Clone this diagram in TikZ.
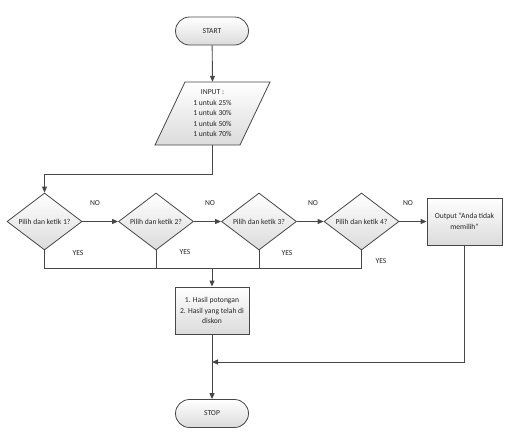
\documentclass[tikz,border=0pt]{standalone}
\usepackage{fontspec}
\setmainfont{Carlito}
\usetikzlibrary{shapes.geometric,arrows.meta,calc}
\begin{document}
\begin{tikzpicture}[x=1pt,y=-1pt,
 line/.style={draw=black!72, line width=0.9pt},
 arr/.style={line, -{Triangle[length=6pt,width=5pt]}},
 shfill/.style={top color=white, bottom color=black!14, draw=black!72, line width=0.8pt},
 term/.style={shfill, rectangle, rounded corners=14pt, minimum width=73pt, minimum height=28pt, inner sep=0pt},
 dec/.style={shfill, diamond, aspect=1.32, minimum width=75pt, minimum height=57pt, inner sep=0pt},
 proc/.style={shfill, rectangle, minimum width=74pt, minimum height=47pt, inner sep=1pt, align=center},
 every node/.append style={font=\fontsize{7.6}{10.5}\selectfont, text=black!85}]
\useasboundingbox (0,0) rectangle (508,437);
% start
\node[term] (start) at (212,31) {START};
% input parallelogram
\coordinate (ic) at (212.5,113.5);
\path[shfill] ($(ic)+(-27.5,-31.5)$) -- ($(ic)+(57.5,-31.5)$) -- ($(ic)+(27.5,31.5)$) -- ($(ic)+(-57.5,31.5)$) -- cycle;
\node[minimum width=60pt, minimum height=63pt, inner sep=0pt, align=center] (inp) at (ic) {INPUT :\\1 untuk 25\%\\1 untuk 30\%\\1 untuk 50\%\\1 untuk 70\%};
% decisions
\node[dec] (d1) at (44.5,221.5) {Pilih dan ketik 1?};
\node[dec] (d2) at (156,221.5) {Pilih dan ketik 2?};
\node[dec] (d3) at (259,221.5) {Pilih dan ketik 3?};
\node[dec] (d4) at (361.5,221.5) {Pilih dan ketik 4?};
\node[proc, minimum width=75pt] (out) at (464.5,221.5) {Output “Anda tidak\\memilih”};
\node[proc] (proc) at (212,310.5) {1. Hasil potongan\\2. Hasil yang telah di\\diskon};
\node[term] (stop) at (212,413.5) {STOP};
\coordinate (bus) at (0,268);
\coordinate (m) at (212,362);
% connectors
\draw[arr] (start) -- (inp.north);
\draw[arr] (inp.south) -- ++(0,29) -| (d1.north);
\draw[arr] (d1.east) -- (d2.west);
\draw[arr] (d2.east) -- (d3.west);
\draw[arr] (d3.east) -- (d4.west);
\draw[arr] (d4.east) -- (out.west);
\draw[line] (d1.south) -- (d1.south |- bus) -- (d4.south |- bus) -- (d4.south);
\draw[line] (d2.south) -- (d2.south |- bus);
\draw[line] (d3.south) -- (d3.south |- bus);
\draw[arr] (proc.north |- bus) -- (proc.north);
\draw[arr] (proc.south) -- (stop.north);
\draw[arr] (out.south) |- (m);
% labels
\node (no1) at (95,203) {NO};
\node (no2) at (210,203) {NO};
\node (no3) at (313,203) {NO};
\node (no4) at (408,203) {NO};
\node (yes1) at (78,253) {YES};
\node (yes2) at (185,252) {YES};
\node (yes3) at (287,253) {YES};
\node (yes4) at (381,261) {YES};
\end{tikzpicture}
\end{document}
